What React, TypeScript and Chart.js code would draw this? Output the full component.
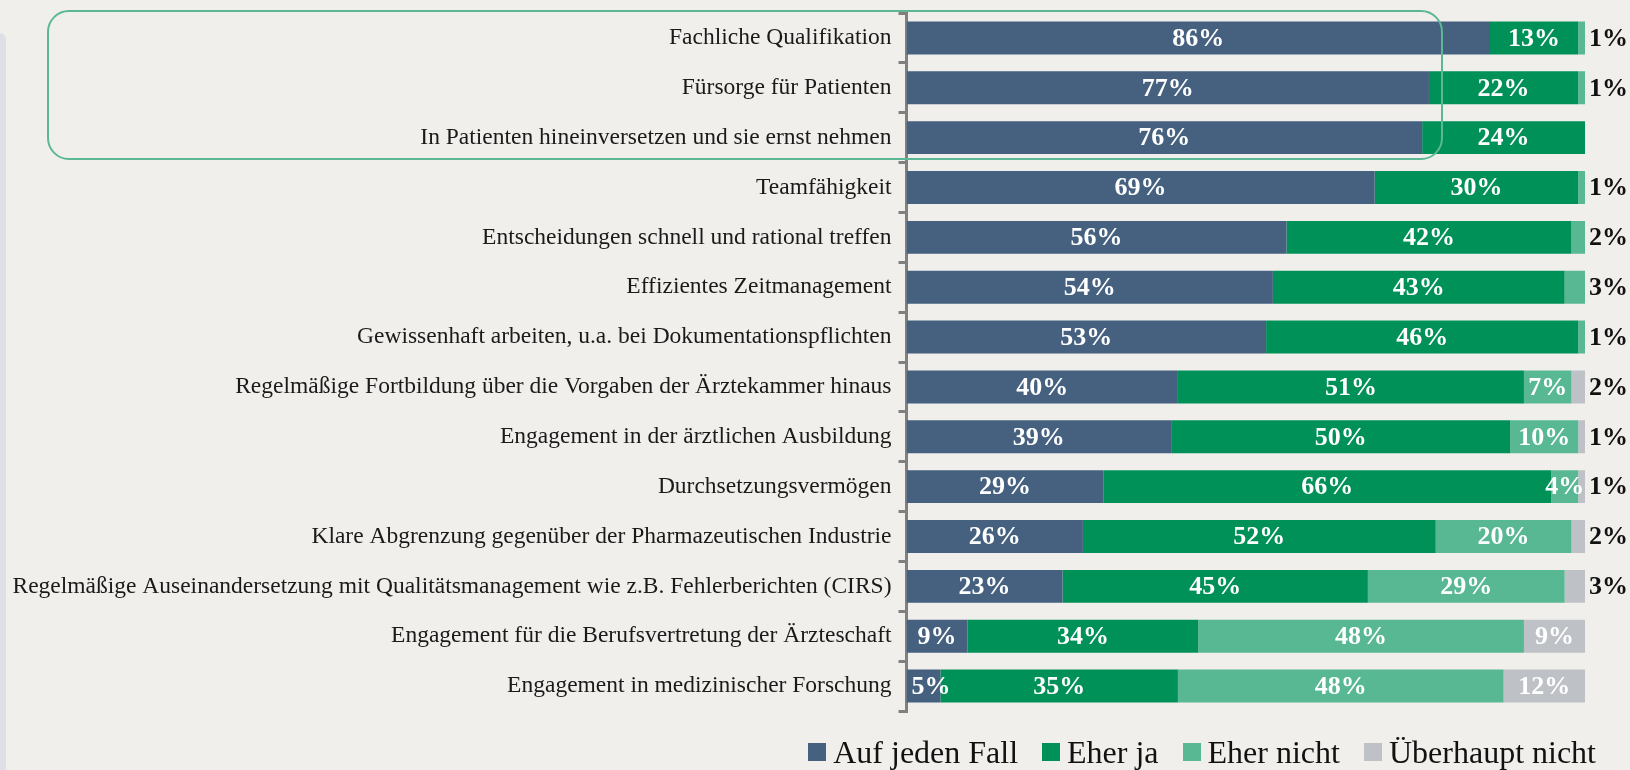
import React, { useEffect, useRef } from "react";
import { Chart, registerables } from "chart.js";

Chart.register(...registerables);

const categories = [
  "Fachliche Qualifikation",
  "Fürsorge für Patienten",
  "In Patienten hineinversetzen und sie ernst nehmen",
  "Teamfähigkeit",
  "Entscheidungen schnell und rational treffen",
  "Effizientes Zeitmanagement",
  "Gewissenhaft arbeiten, u.a. bei Dokumentationspflichten",
  "Regelmäßige Fortbildung über die Vorgaben der Ärztekammer hinaus",
  "Engagement in der ärztlichen Ausbildung",
  "Durchsetzungsvermögen",
  "Klare Abgrenzung gegenüber der Pharmazeutischen Industrie",
  "Regelmäßige Auseinandersetzung mit Qualitätsmanagement wie z.B. Fehlerberichten (CIRS)",
  "Engagement für die Berufsvertretung der Ärzteschaft",
  "Engagement in medizinischer Forschung",
];

const seriesNames = ["Auf jeden Fall", "Eher ja", "Eher nicht", "Überhaupt nicht"];
const aufJedenFall = [86, 77, 76, 69, 56, 54, 53, 40, 39, 29, 26, 23, 9, 5];
const eherJa = [13, 22, 24, 30, 42, 43, 46, 51, 50, 66, 52, 45, 34, 35];
const eherNicht = [1, 1, 0, 1, 2, 3, 1, 7, 10, 4, 20, 29, 48, 48];
const ueberhauptNicht = [0, 0, 0, 0, 0, 0, 0, 2, 1, 1, 2, 3, 9, 12];
const seriesColors = ["#45617f", "#009159", "#58b893", "#bec2c6"];

const FONT = "'Liberation Serif', 'Times New Roman', serif";
const BG = "#f0efeb";

const labelPlugin = {
  id: "valueLabels",
  afterDatasetsDraw(chart: any) {
    const ctx = chart.ctx;
    const left = chart.chartArea.left;
    ctx.save();
    ctx.font = `bold 26px ${FONT}`;
    ctx.textBaseline = "middle";
    chart.data.datasets.forEach((ds: any, di: number) => {
      const meta = chart.getDatasetMeta(di);
      meta.data.forEach((el: any, i: number) => {
        const v = ds.data[i];
        if (!v) return;
        const p = el.getProps(["x", "y", "base"], true);
        const txt = `${v}%`;
        if (v <= 3) {
          ctx.fillStyle = "#111111";
          ctx.textAlign = "left";
          ctx.fillText(txt, p.x + 4, p.y + 1);
        } else {
          const w = ctx.measureText(txt).width;
          const cx = Math.max((p.x + p.base) / 2, left + w / 2 + 5);
          ctx.fillStyle = "#ffffff";
          ctx.textAlign = "center";
          ctx.fillText(txt, cx, p.y + 1);
        }
      });
    });
    ctx.restore();
  },
};

export default function App() {
  const ref = useRef<HTMLCanvasElement | null>(null);

  useEffect(() => {
    document.body.style.margin = "0";
    document.body.style.background = BG;
    const canvas = ref.current!;
    const mctx = canvas.getContext("2d")!;
    mctx.font = `100px ${FONT}`;
    const longest = Math.max(...categories.map((c) => mctx.measureText(c).width));
    const labelSize = Math.round((878 / longest) * 100 * 10) / 10;

    const values = [aufJedenFall, eherJa, eherNicht, ueberhauptNicht];
    const chart = new Chart(canvas, {
      type: "bar",
      data: {
        labels: categories,
        datasets: seriesNames.map((name, k) => ({
          label: name,
          data: values[k],
          backgroundColor: seriesColors[k],
          borderWidth: 0,
          barPercentage: 0.66,
          categoryPercentage: 1,
        })),
      },
      options: {
        indexAxis: "y",
        animation: false,
        responsive: false,
        layout: { padding: { top: 13, right: 45, bottom: 59, left: 0 } },
        scales: {
          x: { stacked: true, min: 0, max: 100, display: false },
          y: {
            stacked: true,
            grid: {
              display: true,
              drawOnChartArea: false,
              drawTicks: true,
              tickLength: 8,
              color: "#808080",
              lineWidth: 3,
              offset: true,
            },
            border: { display: true, color: "#808080", width: 3 },
            ticks: {
              color: "#1a1a1a",
              padding: 7,
              font: { family: FONT, size: labelSize },
            },
            afterFit: (s: any) => {
              s.width = 906.5;
              s.paddingTop = 0;
              s.paddingBottom = 0;
            },
          },
        },
        plugins: { legend: { display: false }, tooltip: { enabled: false } },
      },
      plugins: [labelPlugin],
    } as any);
    return () => chart.destroy();
  }, []);

  return (
    <div
      style={{
        position: "relative",
        width: 1630,
        height: 770,
        background: BG,
        overflow: "hidden",
        fontFamily: FONT,
      }}
    >
      <div
        style={{
          position: "absolute",
          left: 0,
          top: 33,
          width: 6,
          height: 760,
          background: "#dde0e4",
          borderTopRightRadius: 6,
        }}
      />
      <canvas ref={ref} width={1630} height={770} style={{ position: "absolute", left: 0, top: 0, display: "block" }} />
      <div
        style={{
          position: "absolute",
          left: 47,
          top: 10,
          width: 1396,
          height: 150,
          boxSizing: "border-box",
          border: "2.5px solid #5cb894",
          borderRadius: 22,
          pointerEvents: "none",
        }}
      />
      <div
        style={{
          position: "absolute",
          right: 34,
          top: 734,
          display: "flex",
          alignItems: "center",
          gap: 24,
          fontSize: 32,
          lineHeight: "36px",
          color: "#111",
        }}
      >
        {seriesNames.map((n, k) => (
          <div key={n} style={{ display: "flex", alignItems: "center" }}>
            <span style={{ display: "inline-block", width: 18, height: 18, background: seriesColors[k], marginRight: 7 }} />
            <span>{n}</span>
          </div>
        ))}
      </div>
    </div>
  );
}
